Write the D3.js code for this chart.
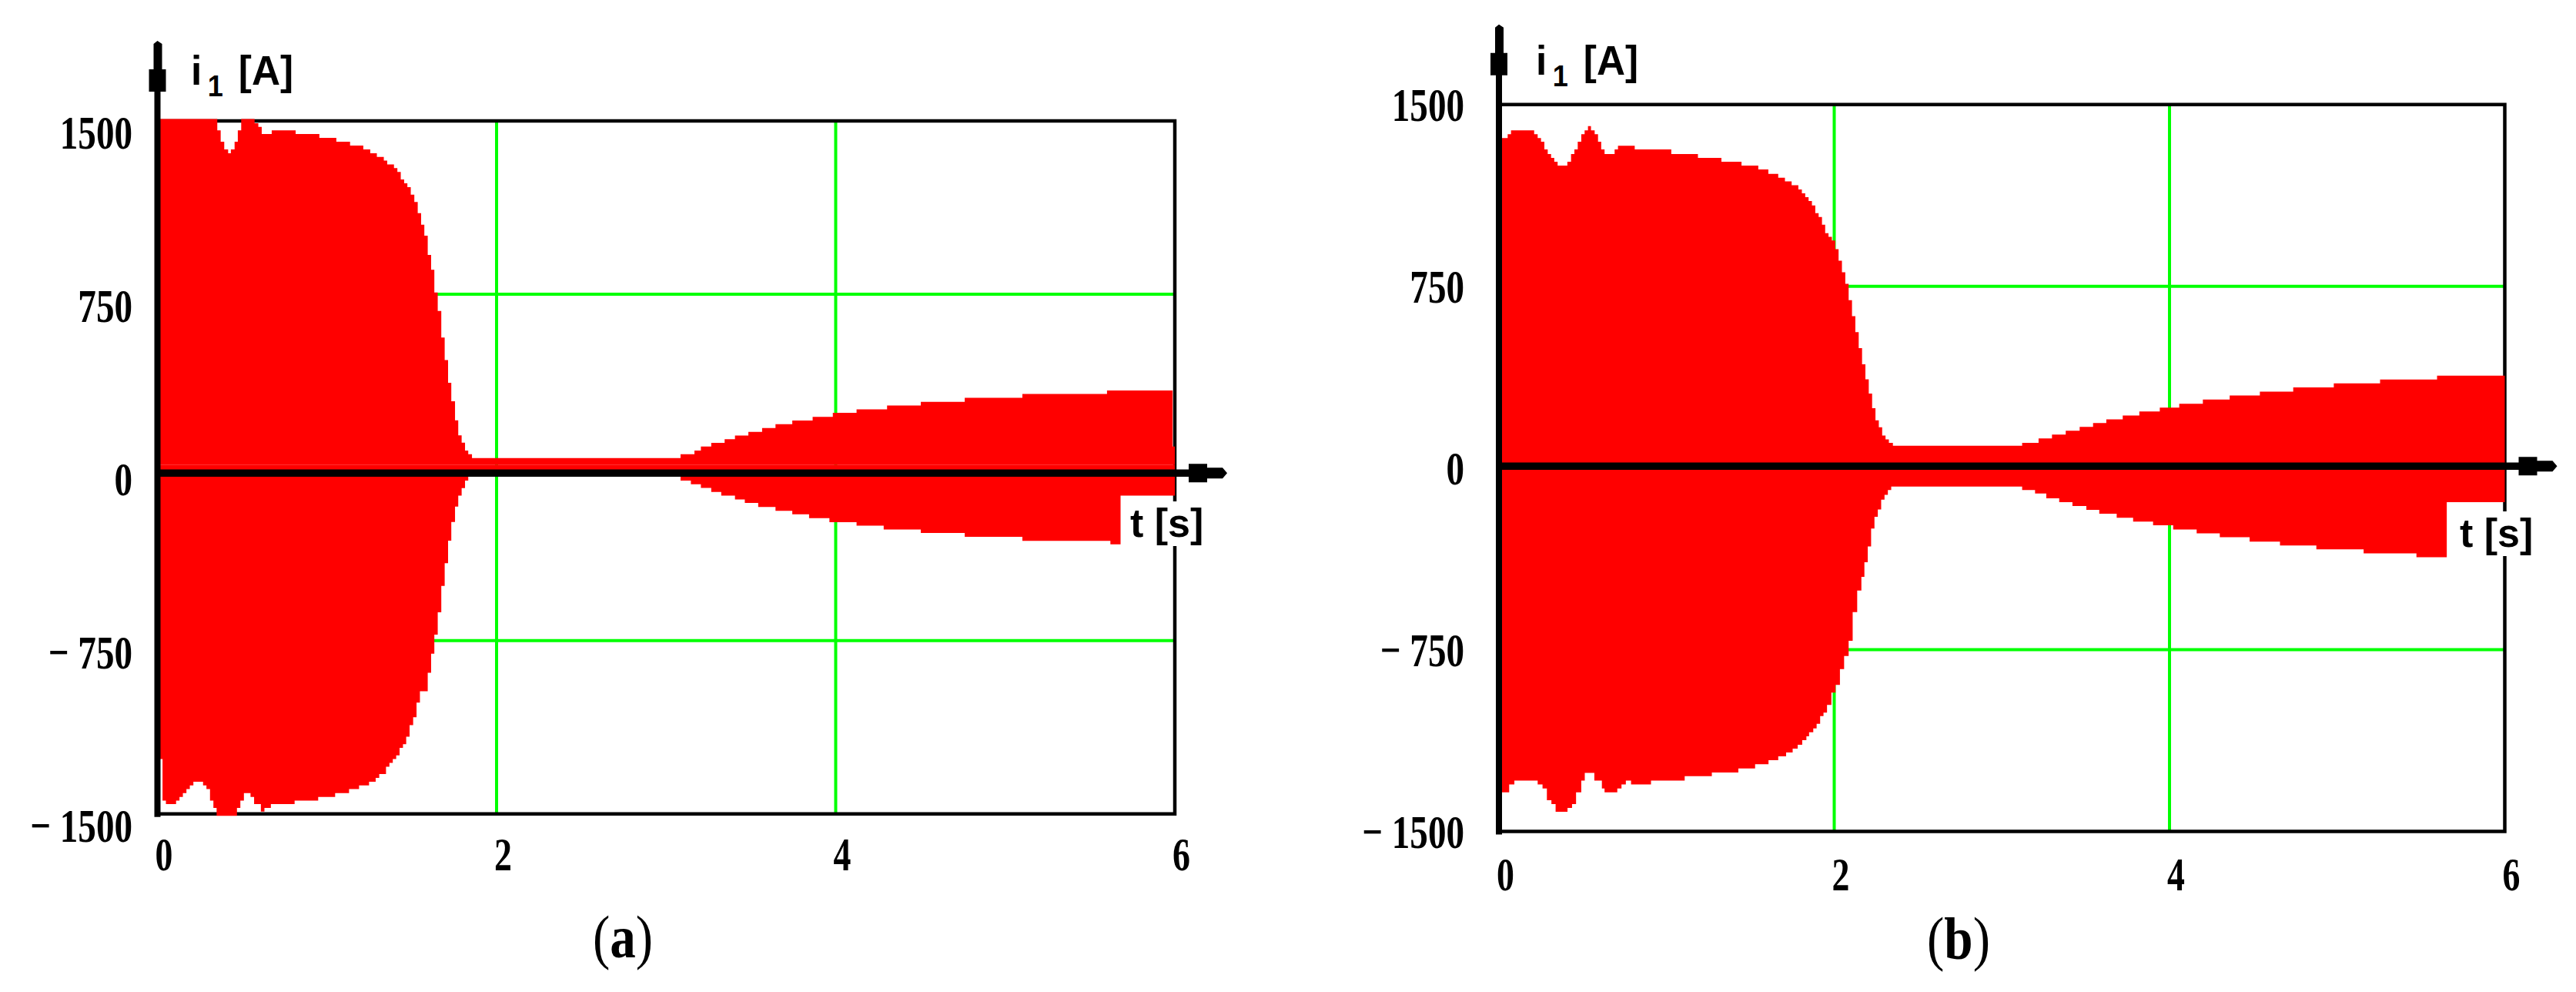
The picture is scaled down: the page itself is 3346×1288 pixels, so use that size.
<!DOCTYPE html>
<html>
<head>
<meta charset="utf-8">
<script src="https://cdn.jsdelivr.net/npm/d3@7"></script>
<style>
  html, body { margin: 0; padding: 0; background: #fff; }
  svg { display: block; }
</style>
</head>
<body>
<div id="chart"></div>
<script>
'use strict';

// i1 [A] against t [s], two Mathcad plots side by side.
// The current oscillates too fast to see, so only its envelope is kept:
// upper and lower edge as [t, i] steps.

var xTicks = [0, 2, 4, 6];
var yTicks = [-1500, -750, 0, 750, 1500];
var yTickText = ['\u2212 1500', '\u2212 750', '0', '750', '1500'];
var gridX = [2, 4];
var gridY = [-750, 750];
var captions = ['a', 'b'];

var upperA = [[0,1520],[0.353,1459],[0.373,1410],[0.394,1377],[0.417,1360],[0.433,1377],[0.455,1410],
  [0.474,1459],[0.494,1520],[0.573,1490],[0.595,1474],[0.615,1443],[0.674,1459],[0.815,1443],[0.955,1427],
  [1.055,1410],[1.136,1393],[1.214,1377],[1.255,1360],[1.294,1344],[1.335,1328],[1.355,1312],[1.395,1296],
  [1.415,1279],[1.435,1247],[1.455,1230],[1.474,1213],[1.494,1181],[1.515,1149],[1.535,1101],[1.555,1051],
  [1.574,1003],[1.594,920],[1.614,856],[1.633,757],[1.653,677],[1.674,562],[1.694,465],[1.714,366],
  [1.733,286],[1.755,204],[1.774,139],[1.794,107],[1.814,73],[1.833,57],[1.855,40],[3.085,57],[3.167,73],
  [3.205,90],[3.266,106],[3.345,122],[3.406,138],[3.485,154],[3.566,170],[3.645,187],[3.744,203],
  [3.864,219],[3.983,236],[4.123,251],[4.303,268],[4.502,284],[4.761,301],[5.101,318],[5.600,333],
  [5.987,90],[6,90]];

var lowerA = [[0,-1263],[0.030,-1443],[0.050,-1458],[0.110,-1443],[0.130,-1427],[0.150,-1410],[0.171,-1393],
  [0.191,-1377],[0.212,-1361],[0.269,-1377],[0.289,-1393],[0.310,-1443],[0.330,-1474],[0.349,-1520],
  [0.469,-1474],[0.489,-1443],[0.510,-1410],[0.549,-1427],[0.570,-1458],[0.610,-1490],[0.631,-1474],
  [0.669,-1458],[0.809,-1443],[0.948,-1427],[1.048,-1410],[1.130,-1393],[1.189,-1377],[1.248,-1361],
  [1.287,-1344],[1.308,-1328],[1.348,-1296],[1.368,-1279],[1.388,-1263],[1.408,-1247],[1.428,-1214],
  [1.448,-1198],[1.467,-1166],[1.487,-1116],[1.508,-1082],[1.528,-1018],[1.548,-969],[1.594,-889],
  [1.614,-807],[1.633,-724],[1.653,-627],[1.674,-513],[1.694,-415],[1.714,-317],[1.733,-236],[1.755,-170],
  [1.774,-122],[1.794,-90],[1.814,-57],[1.833,-30],[3.085,-57],[3.146,-73],[3.205,-89],[3.266,-106],
  [3.325,-122],[3.406,-139],[3.464,-154],[3.543,-171],[3.645,-188],[3.744,-203],[3.843,-220],[3.963,-237],
  [4.123,-252],[4.283,-269],[4.502,-284],[4.761,-301],[5.101,-318],[5.620,-333],[5.680,-122],[6,-122]];

var upperB = [[0,1362],[0.052,1378],[0.072,1394],[0.210,1378],[0.231,1362],[0.251,1347],[0.271,1315],
  [0.291,1296],[0.311,1280],[0.330,1264],[0.350,1248],[0.408,1264],[0.430,1296],[0.450,1315],[0.470,1347],
  [0.491,1378],[0.511,1394],[0.531,1411],[0.549,1394],[0.571,1378],[0.591,1347],[0.610,1315],[0.630,1296],
  [0.690,1315],[0.710,1330],[0.810,1315],[1.028,1296],[1.187,1280],[1.327,1264],[1.447,1248],[1.547,1232],
  [1.607,1214],[1.666,1198],[1.706,1183],[1.746,1167],[1.786,1150],[1.807,1134],[1.827,1118],[1.847,1102],
  [1.867,1084],[1.887,1052],[1.907,1036],[1.927,1004],[1.946,969],[1.966,954],[1.986,939],[2.006,903],
  [2.026,856],[2.046,808],[2.066,760],[2.086,693],[2.106,627],[2.126,561],[2.146,495],[2.166,428],
  [2.186,366],[2.206,307],[2.226,247],[2.246,197],[2.266,168],[2.286,134],[2.306,118],[2.326,104],
  [2.350,92],[3.121,104],[3.219,122],[3.299,138],[3.381,154],[3.464,170],[3.544,186],[3.623,201],
  [3.721,217],[3.820,233],[3.942,249],[4.058,265],[4.199,283],[4.359,299],[4.539,315],[4.738,333],
  [4.980,349],[5.256,365],[5.596,381],[6,381]];

var lowerB = [[0,-1339],[0.061,-1306],[0.092,-1290],[0.231,-1306],[0.260,-1323],[0.286,-1371],[0.313,-1387],
  [0.338,-1419],[0.409,-1403],[0.436,-1387],[0.460,-1339],[0.491,-1290],[0.512,-1258],[0.569,-1290],
  [0.614,-1323],[0.630,-1339],[0.706,-1323],[0.731,-1306],[0.757,-1290],[0.788,-1306],[0.907,-1290],
  [1.108,-1272],[1.270,-1257],[1.428,-1240],[1.528,-1223],[1.608,-1206],[1.666,-1190],[1.713,-1174],
  [1.752,-1158],[1.782,-1142],[1.809,-1123],[1.834,-1107],[1.850,-1091],[1.875,-1075],[1.895,-1056],
  [1.916,-1024],[1.936,-1010],[1.957,-978],[1.983,-927],[2.008,-895],[2.034,-830],[2.059,-776],
  [2.086,-713],[2.110,-595],[2.137,-506],[2.162,-449],[2.180,-389],[2.200,-324],[2.220,-250],[2.240,-201],
  [2.260,-171],[2.280,-131],[2.300,-111],[2.320,-91],[2.340,-77],[3.121,-91],[3.198,-105],[3.265,-125],
  [3.342,-141],[3.421,-157],[3.504,-173],[3.581,-189],[3.685,-205],[3.783,-221],[3.902,-236],[4.022,-254],
  [4.162,-270],[4.300,-286],[4.478,-304],[4.659,-320],[4.876,-336],[5.158,-352],[5.473,-368],[5.654,-141],
  [6,-141]];

// where each plot sits on the page
var layout = [
  {x0: 204.5, x1: 1526, yTop: 157, yBot: 1056.7, zeroShift: 7.5, yLabRight: 172, yLabDy: 36, xLabDy: 73,
   titleX: 248, titleY: 110, tLabX: 1468, tLabY: 697, capX: 809, capY: 1243},
  {x0: 1947, x1: 3253.5, yTop: 135.8, yBot: 1079.5, zeroShift: -2.5, yLabRight: 1902, yLabDy: 21, xLabDy: 76.5,
   titleX: 1995, titleY: 97, tLabX: 3195, tLabY: 710, capX: 2544, capY: 1245}
];

var RED = '#ff0000';
var GREEN = '#00ff00';
var SERIF = "'Liberation Serif', 'Times New Roman', serif";
var SANS = "'Liberation Sans', Arial, sans-serif";

var svg = d3.select('#chart').append('svg')
  .attr('width', 3346)
  .attr('height', 1288);

svg.append('rect').attr('width', 3346).attr('height', 1288).attr('fill', '#fff');

// text squeezed sideways, the plot export is stretched vertically
function label(g, str, x, y, size, family, weight, sx, anchor) {
  return g.append('text')
    .attr('transform', 'translate(' + x + ',' + y + ') scale(' + sx + ',1)')
    .attr('font-family', family)
    .attr('font-size', size)
    .attr('font-weight', weight)
    .attr('text-anchor', anchor)
    .attr('fill', '#000')
    .text(str);
}

function drawPanel(i, upper, lower) {
  var P = layout[i];
  var x = d3.scaleLinear().domain([0, 6]).range([P.x0, P.x1]);
  var y = d3.scaleLinear().domain([-1500, 1500]).range([P.yBot, P.yTop]);
  var g = svg.append('g');
  var zeroY = y(0) + P.zeroShift;

  // green grid
  g.selectAll('line.gx').data(gridX).join('line')
    .attr('class', 'gx')
    .attr('x1', function(d){ return x(d); })
    .attr('x2', function(d){ return x(d); })
    .attr('y1', y(1500)).attr('y2', y(-1500))
    .attr('stroke', GREEN).attr('stroke-width', 4);
  g.selectAll('line.gy').data(gridY).join('line')
    .attr('class', 'gy')
    .attr('x1', x(0)).attr('x2', x(6))
    .attr('y1', function(d){ return y(d); })
    .attr('y2', function(d){ return y(d); })
    .attr('stroke', GREEN).attr('stroke-width', 4);

  // frame: top, right, bottom
  g.append('path')
    .attr('d', 'M' + x(0) + ',' + y(1500) + 'H' + x(6) + 'V' + y(-1500) + 'H' + x(0))
    .attr('fill', 'none').attr('stroke', '#000').attr('stroke-width', 4.5);

  // red envelope, clipped to the frame
  var clipId = 'clip' + i;
  g.append('clipPath').attr('id', clipId).append('rect')
    .attr('x', x(0)).attr('y', y(1500) - 2.5)
    .attr('width', x(6) - x(0) + 2).attr('height', y(-1500) - y(1500) + 5);

  var mid = y(10);
  var area = d3.area()
    .curve(d3.curveStepAfter)
    .x(function(d){ return x(d[0]); })
    .y0(mid)
    .y1(function(d){ return y(d[1]); });

  var env = g.append('g').attr('clip-path', 'url(#' + clipId + ')');
  env.append('path').datum(upper).attr('d', area).attr('fill', RED);
  env.append('path').datum(lower).attr('d', area).attr('fill', RED);

  // "t [s]" sits on a white box over the frame
  g.append('rect')
    .attr('x', P.tLabX - 3).attr('y', P.tLabY - 46)
    .attr('width', 104).attr('height', 58)
    .attr('fill', '#fff');
  label(g, 't [s]', P.tLabX, P.tLabY, 52, SANS, 'bold', 1, 'start');

  // y axis with its arrow
  var top = y(1500);
  g.append('line')
    .attr('x1', x(0)).attr('x2', x(0))
    .attr('y1', y(-1500) + 4).attr('y2', top - 70)
    .attr('stroke', '#000').attr('stroke-width', 8);
  g.append('path')
    .attr('d', 'M' + (x(0) - 11) + ',' + (top - 38) + 'V' + (top - 67) + 'H' + (x(0) - 5) +
      'V' + (top - 100) + 'L' + x(0) + ',' + (top - 104) + 'L' + (x(0) + 6) + ',' + (top - 100) +
      'V' + (top - 67) + 'H' + (x(0) + 11) + 'V' + (top - 38) + 'Z')
    .attr('fill', '#000');

  // x axis through zero with its arrow
  var right = x(6);
  g.append('line')
    .attr('x1', x(0)).attr('x2', right + 50)
    .attr('y1', zeroY).attr('y2', zeroY)
    .attr('stroke', '#000').attr('stroke-width', 9.5);
  g.append('path')
    .attr('d', 'M' + (right + 18) + ',' + (zeroY - 12) + 'H' + (right + 42) + 'V' + (zeroY - 7) +
      'H' + (right + 62) + 'L' + (right + 68) + ',' + zeroY + 'L' + (right + 62) + ',' + (zeroY + 7) +
      'H' + (right + 42) + 'V' + (zeroY + 12) + 'H' + (right + 18) + 'Z')
    .attr('fill', '#000');

  // tick labels
  yTicks.forEach(function(v, k){
    label(g, yTickText[k], P.yLabRight, y(v) + P.yLabDy, 62, SERIF, 'bold', 0.76, 'end');
  });
  xTicks.forEach(function(t){
    label(g, String(t), x(t) - 3, P.yBot + P.xLabDy, 62, SERIF, 'bold', 0.74, 'start');
  });

  // axis title i1 [A]
  var title = g.append('text')
    .attr('transform', 'translate(' + P.titleX + ',' + P.titleY + ') scale(0.95,1)')
    .attr('font-family', SANS).attr('font-weight', 'bold').attr('font-size', 54)
    .attr('fill', '#000');
  title.append('tspan').text('i');
  title.append('tspan').attr('font-size', 38).attr('dx', 8).attr('dy', 15).text('1');
  title.append('tspan').attr('dx', 6).attr('dy', -15).text(' [A]');

  // caption (a) / (b)
  var cap = g.append('text')
    .attr('transform', 'translate(' + P.capX + ',' + P.capY + ') scale(0.86,1)')
    .attr('font-family', SERIF).attr('font-size', 78).attr('text-anchor', 'middle')
    .attr('fill', '#000');
  cap.append('tspan').text('(');
  cap.append('tspan').attr('font-weight', 'bold').text(captions[i]);
  cap.append('tspan').text(')');
}

drawPanel(0, upperA, lowerA);
drawPanel(1, upperB, lowerB);
</script>
</body>
</html>
